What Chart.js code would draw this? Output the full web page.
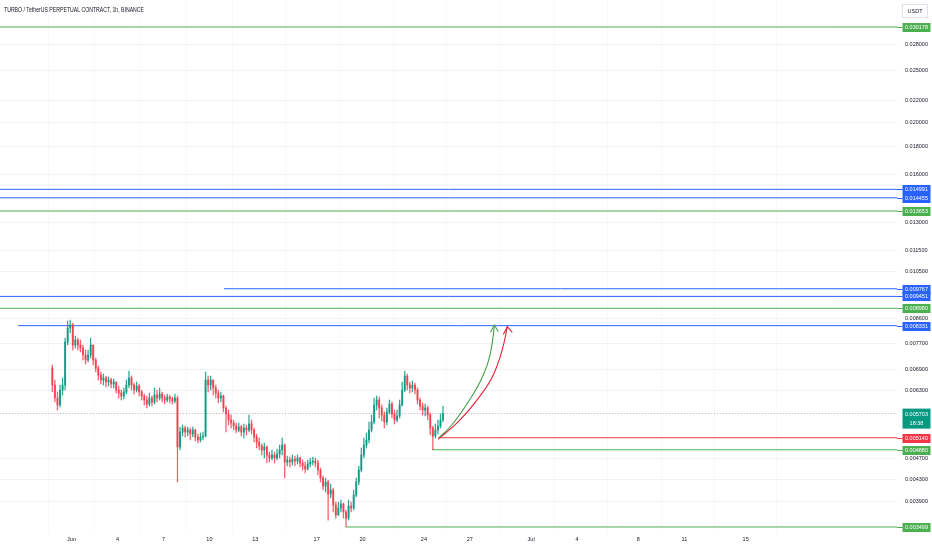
<!DOCTYPE html>
<html><head><meta charset="utf-8">
<script src="https://cdn.jsdelivr.net/npm/chart.js@4.4.1/dist/chart.umd.min.js"></script>
<style>html,body{margin:0;padding:0;background:#fff}#wrap{width:932px;height:550px;position:relative}</style>
</head><body><div id="wrap"><canvas id="c"></canvas></div>
<script>
// ---------- data ----------
const chartTitle = 'TURBO / TetherUS PERPETUAL CONTRACT, 1h, BINANCE';
const quoteCurrency = 'USDT';
// candle times: days from Jun 1 00:00, 4h steps (category axis)
const candleStartDay = -1.25;
const candleStepDays = 1 / 6;
const firstOpen = 0.006942;
const closes = [
0.006451,0.006100,0.005918,0.006314,0.006451,0.007765,0.008248,0.008355,0.007665,0.007832,
0.007665,0.007567,0.007342,0.007185,0.007342,0.007665,0.007185,0.006942,0.006735,0.006592,
0.006649,0.006536,0.006592,0.006479,0.006536,0.006314,0.006233,0.006153,0.006260,0.006451,
0.006649,0.006451,0.006314,0.006424,0.006260,0.006153,0.006047,0.005944,0.006100,0.005995,
0.006179,0.006100,0.006206,0.006100,0.006047,0.006126,0.006073,0.006021,0.006100,0.004939,
0.005268,0.005360,0.005268,0.005314,0.005223,0.005314,0.005156,0.005090,0.005156,0.005178,
0.006592,0.006451,0.006592,0.006369,0.006233,0.006100,0.006153,0.005842,0.005694,0.005548,
0.005477,0.005407,0.005314,0.005384,0.005268,0.005360,0.005314,0.005454,0.005314,0.005156,
0.005046,0.004960,0.004875,0.004939,0.004771,0.004710,0.004771,0.004710,0.004792,0.004875,
0.004981,0.004629,0.004669,0.004629,0.004689,0.004649,0.004710,0.004610,0.004550,0.004492,
0.004590,0.004629,0.004649,0.004610,0.004472,0.004321,0.004174,0.004247,0.004033,0.004103,
0.003846,0.003683,0.003797,0.003863,0.003732,0.003636,0.003830,0.003797,0.004015,0.004247,
0.004472,0.004771,0.004981,0.005090,0.005314,0.005501,0.005918,0.006047,0.005842,0.005669,
0.005501,0.005743,0.005944,0.005694,0.005548,0.005645,0.005918,0.006314,0.006706,0.006451,
0.006369,0.006451,0.006314,0.006047,0.005893,0.005792,0.005842,0.005669,0.005360,0.005178,
0.005314,0.005407,0.005548,0.005703];
const highs = [
0.007032,0.006592,0.006260,0.006451,0.006649,0.007900,0.008501,0.008537,0.008428,0.007969,
0.007900,0.007832,0.007665,0.007502,0.007502,0.007900,0.007665,0.007248,0.007002,0.006823,
0.006764,0.006706,0.006678,0.006649,0.006621,0.006536,0.006424,0.006314,0.006369,0.006592,
0.006853,0.006706,0.006507,0.006536,0.006479,0.006314,0.006206,0.006153,0.006233,0.006153,
0.006369,0.006314,0.006369,0.006260,0.006179,0.006206,0.006179,0.006126,0.006206,0.006153,
0.005384,0.005430,0.005407,0.005384,0.005360,0.005384,0.005337,0.005223,0.005246,0.005268,
0.006823,0.006706,0.006706,0.006592,0.006451,0.006314,0.006260,0.006179,0.005893,0.005792,
0.005669,0.005548,0.005477,0.005477,0.005430,0.005454,0.005430,0.005669,0.005548,0.005360,
0.005223,0.005134,0.005003,0.005025,0.004960,0.004833,0.004875,0.004833,0.004896,0.004981,
0.005134,0.005003,0.004751,0.004730,0.004771,0.004751,0.004771,0.004730,0.004669,0.004629,
0.004669,0.004710,0.004730,0.004710,0.004669,0.004511,0.004358,0.004321,0.004283,0.004210,
0.004139,0.003896,0.003896,0.003929,0.003879,0.003764,0.003929,0.003896,0.004103,0.004321,
0.004550,0.004917,0.005134,0.005246,0.005501,0.005669,0.006100,0.006153,0.006126,0.005918,
0.005743,0.005842,0.006047,0.005995,0.005792,0.005792,0.006047,0.006536,0.006853,0.006764,
0.006536,0.006564,0.006507,0.006369,0.006100,0.005970,0.005944,0.005893,0.005718,0.005407,
0.005454,0.005548,0.005694,0.005893];
const lows = [
0.006260,0.005995,0.005792,0.005868,0.006179,0.006314,0.007665,0.008073,0.007502,0.007567,
0.007502,0.007438,0.007185,0.007063,0.007124,0.007248,0.007032,0.006823,0.006592,0.006479,
0.006451,0.006396,0.006424,0.006369,0.006369,0.006233,0.006100,0.006047,0.006073,0.006206,
0.006369,0.006314,0.006206,0.006260,0.006153,0.006047,0.005918,0.005842,0.005893,0.005893,
0.005944,0.005995,0.006047,0.005995,0.005944,0.005995,0.005970,0.005944,0.005970,0.004247,
0.004875,0.005178,0.005156,0.005178,0.005090,0.005156,0.005068,0.005025,0.005046,0.005090,
0.005156,0.006260,0.006314,0.006179,0.006100,0.005970,0.005995,0.005743,0.005268,0.005430,
0.005360,0.005314,0.005246,0.005268,0.005178,0.005134,0.005200,0.005268,0.005223,0.005046,
0.004917,0.004875,0.004771,0.004710,0.004610,0.004629,0.004669,0.004610,0.004669,0.004710,
0.004771,0.004321,0.004550,0.004531,0.004570,0.004550,0.004590,0.004531,0.004472,0.004415,
0.004472,0.004531,0.004570,0.004531,0.004377,0.004247,0.004103,0.004068,0.003605,0.003964,
0.003732,0.003636,0.003683,0.003732,0.003636,0.003499,0.003605,0.003732,0.003764,0.003981,
0.004192,0.004434,0.004710,0.004917,0.005025,0.005268,0.005454,0.005792,0.005596,0.005524,
0.005360,0.005430,0.005694,0.005596,0.005454,0.005501,0.005596,0.005893,0.006260,0.006314,
0.006233,0.006260,0.006206,0.005944,0.005792,0.005669,0.005645,0.005548,0.005200,0.004880,
0.005134,0.005223,0.005360,0.005501];

const dayTicks = [0,3,6,9,12,16,19,23,26,30,33,37,40,44];
const dayTickLabels = ['Jun','4','7','10','13','17','20','24','27','Jul','4','8','11','15'];
const priceTicks = [0.028,0.025,0.022,0.020,0.018,0.016,0.013,0.0115,0.0105,0.0086,0.0077,0.0069,0.0063,0.0057,0.0047,0.0043,0.0039];

const levelPrices = [0.030178,0.014991,0.014455,0.013653,0.009767,0.009451,0.008980,0.008331,0.005140,0.004880,0.003499];
const levelKinds  = ['green','blue','blue','green','blue','blue','green','blue','red','green','green'];
const levelStartDays = [null,null,null,null,9.95,null,null,-3.49,23.94,23.53,17.92];

const lastPrice = 0.005703;
const countdown = '18:38';

const greenArrowDays   = [23.99,24.82,25.90,26.78,27.32,27.53,27.60];
const greenArrowPrices = [0.005140,0.005430,0.006003,0.006640,0.007342,0.008003,0.008355];
const greenHeadDays    = [27.34,27.60,27.86];
const greenHeadPrices  = [0.008097,0.008355,0.008118];
const redArrowDays     = [23.94,25.25,26.55,27.53,28.08,28.34,28.43];
const redArrowPrices   = [0.005112,0.005508,0.006091,0.006735,0.007448,0.008003,0.008294];
const redHeadDays      = [28.19,28.45,28.77];
const redHeadPrices    = [0.008027,0.008294,0.008097];

// ---------- styles ----------
const X_MIN = -4.667, X_MAX = 53.88;
const Y_MIN = 0.003424, Y_MAX = 0.03390;
const COLORS = {green:'#4caf50', blue:'#2962ff', red:'#f23645', up:'rgba(8,153,129,0.85)', down:'rgba(242,54,69,0.8)', teal:'#089981'};
const FONT = '"Liberation Sans", Arial, sans-serif';

const times = closes.map((_, i) => candleStartDay + i * candleStepDays);
const opens = closes.map((_, i) => i === 0 ? firstOpen : closes[i - 1]);
const candleColors = closes.map((c, i) => c >= opens[i] ? COLORS.up : COLORS.down);

const datasets = [];
levelPrices.forEach((p, i) => {
  const s = levelStartDays[i] === null ? X_MIN : levelStartDays[i];
  datasets.push({type:'line', data:[{x:s,y:p},{x:X_MAX,y:p}], borderColor:COLORS[levelKinds[i]], borderWidth:1, pointRadius:0, order:5});
});
datasets.push({type:'line', data:[{x:X_MIN,y:lastPrice},{x:X_MAX,y:lastPrice}], borderColor:'rgba(120,123,134,0.4)', borderDash:[1,2], borderWidth:1, pointRadius:0, order:6});
datasets.push({type:'line', data:greenArrowDays.map((d,i)=>({x:d,y:greenArrowPrices[i]})), borderColor:'#43a047', borderWidth:1.1, pointRadius:0, cubicInterpolationMode:'monotone', order:4});
datasets.push({type:'line', data:greenHeadDays.map((d,i)=>({x:d,y:greenHeadPrices[i]})), borderColor:'#43a047', borderWidth:1.1, pointRadius:0, order:4});
datasets.push({type:'line', data:redArrowDays.map((d,i)=>({x:d,y:redArrowPrices[i]})), borderColor:'#e5213a', borderWidth:1.1, pointRadius:0, cubicInterpolationMode:'monotone', order:4});
datasets.push({type:'line', data:redHeadDays.map((d,i)=>({x:d,y:redHeadPrices[i]})), borderColor:'#e5213a', borderWidth:1.1, pointRadius:0, order:4});
datasets.push({type:'bar', data:times.map((t,i)=>({x:t,y:[lows[i],highs[i]]})), backgroundColor:candleColors, barThickness:0.6, grouped:false, order:2});
datasets.push({type:'bar', data:times.map((t,i)=>({x:t,y:[opens[i],closes[i]]})), backgroundColor:candleColors, barThickness:1.3, minBarLength:0.8, grouped:false, order:1});

const overlay = {
  id:'overlay',
  afterDraw(chart){
    const {ctx, chartArea:a, scales:{y}} = chart;
    ctx.save();
    ctx.textBaseline = 'middle';
    ctx.fillStyle = '#131722';
    ctx.font = '6.3px ' + FONT;
    ctx.textAlign = 'left';
    const tw = ctx.measureText(chartTitle).width;
    ctx.save();
    ctx.translate(4, 10.5);
    ctx.scale(140 / tw, 1);
    ctx.fillText(chartTitle, 0, 0);
    ctx.restore();
    // currency box
    ctx.fillStyle = '#fff';
    ctx.strokeStyle = '#e0e3eb';
    ctx.lineWidth = 1;
    ctx.fillRect(902.5, 4.5, 25, 13);
    ctx.strokeRect(902.5, 4.5, 25, 13);
    ctx.fillStyle = '#131722';
    ctx.font = '5.5px ' + FONT;
    ctx.textAlign = 'center';
    ctx.fillText(quoteCurrency, 915, 11.2);
    const bx = 902.5, bw = 28, bh = 9;
    levelPrices.forEach((p, i) => {
      const py = Math.round(y.getPixelForValue(p)) + 0.5;
      const col = COLORS[levelKinds[i]];
      ctx.strokeStyle = col; ctx.beginPath(); ctx.moveTo(a.right, py); ctx.lineTo(bx, py); ctx.stroke();
      ctx.fillStyle = col; ctx.fillRect(bx, py - bh/2, bw, bh);
      ctx.fillStyle = '#fff'; ctx.fillText(p.toFixed(6), bx + bw/2, py + 0.3);
    });
    const ly = y.getPixelForValue(lastPrice);
    ctx.fillStyle = COLORS.teal; ctx.fillRect(bx, ly - 5, bw, 20);
    ctx.fillStyle = '#fff';
    ctx.fillText(lastPrice.toFixed(6), bx + bw/2, ly + 0.5);
    ctx.fillText(countdown, bx + bw/2, ly + 10);
    ctx.restore();
  }
};

new Chart(document.getElementById('c'), {
  type:'bar',
  data:{datasets},
  options:{
    responsive:true, maintainAspectRatio:false, animation:false, events:[],
    layout:{padding:0},
    plugins:{legend:{display:false}, tooltip:{enabled:false}, title:{display:false}},
    scales:{
      x:{type:'linear', min:X_MIN, max:X_MAX, offset:false,
        grid:{color:'#f8f9fb', drawTicks:false}, border:{display:false},
        afterBuildTicks:(s)=>{ s.ticks = dayTicks.map(v=>({value:v})); },
        afterFit:(s)=>{ s.height = 18; s.paddingLeft = 0; s.paddingRight = 0; },
        ticks:{autoSkip:false, maxRotation:0, padding:4, color:'#131722', font:{size:5.5, family:FONT},
          callback:(v)=>{ const k = dayTicks.indexOf(v); return k < 0 ? '' : dayTickLabels[k]; }}
      },
      y:{type:'logarithmic', position:'right', min:Y_MIN, max:Y_MAX,
        grid:{color:'#f0f2f6', drawTicks:false}, border:{display:false},
        afterBuildTicks:(s)=>{ s.ticks = priceTicks.map(v=>({value:v})); },
        afterFit:(s)=>{ s.width = 35; s.paddingTop = 0; s.paddingBottom = 0; },
        ticks:{autoSkip:false, padding:8, color:'#131722', font:{size:5.5, family:FONT},
          callback:(v)=> Number(v).toFixed(6)}
      }
    }
  },
  plugins:[overlay]
});
</script>
</body></html>
